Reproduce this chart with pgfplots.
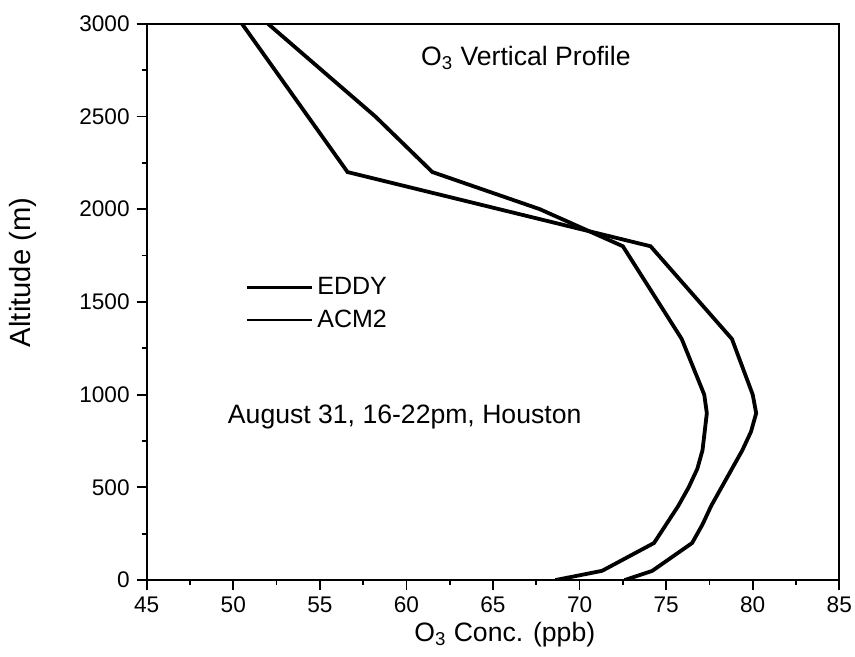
\documentclass[border=0pt]{standalone}
\usepackage{fontspec}
\setmainfont{Liberation Sans}
\usepackage{pgfplots}
\pgfplotsset{compat=1.18}

\begin{document}
\begin{tikzpicture}
\begin{axis}[
  name=ax,
  scale only axis,
  width=346.3pt, height=278.2pt,
  xmin=45, xmax=85, ymin=0, ymax=3000,
  xtick distance=5, ytick distance=500,
  minor x tick num=1, minor y tick num=1,
  tick align=outside, tick pos=left,
  major tick length=5pt, minor tick length=2.5pt,
  axis line style={line width=1pt},
  every tick/.style={black, line width=0.9pt},
  /pgf/number format/assume math mode=true,
  /pgf/number format/1000 sep={},
  scaled ticks=false,
  tick label style={font=\fontsize{11.3}{13}\selectfont},
  xlabel={O\textsubscript{3} Conc. (ppb)},
  ylabel={Altitude (m)},
  xlabel style={font=\fontsize{13.3}{16}\selectfont, at={(0.517,0)}, anchor=base, yshift=-30.5pt},
  ylabel style={font=\fontsize{14.6}{17}\selectfont, at={(-0.1786,0.553)}, anchor=center},
  legend style={at={(0.142,0.552)}, anchor=north west, draw=none, fill=none,
    inner sep=0pt, font=\fontsize{12.5}{15}\selectfont, row sep=2pt,
    cells={anchor=west}},
  legend image code/.code={\draw[#1] (0pt,0pt) -- (32.5pt,0pt);},
]
% EDDY
\addplot[forget plot, black, line width=1.9pt] coordinates {
  (50.5,3000) (56.6,2200) (74.1,1800) (78.8,1300) (80.0,1000) (80.2,900)
  (79.9,800) (79.4,700) (78.8,600) (78.2,500) (77.6,400) (77.1,300)
  (76.5,200) (74.2,50) (72.6,0)};
% ACM2
\addplot[forget plot, black, line width=1.9pt] coordinates {
  (52.0,3000) (58.2,2500) (61.5,2200) (67.7,2000) (72.5,1800) (75.9,1300)
  (77.2,1000) (77.35,900) (77.1,700) (76.8,600) (76.3,500) (75.7,400)
  (75.0,300) (74.3,200) (71.3,50) (68.6,0)};
\addlegendimage{black, line width=1.5pt}
\addlegendentry{EDDY}
\addlegendimage{black, line width=0.85pt}
\addlegendentry{ACM2}
\node[anchor=base, font=\fontsize{13.3}{16}\selectfont] at (axis cs:66.9,2777) {O\textsubscript{3} Vertical Profile};
\node[anchor=base, font=\fontsize{13.3}{16}\selectfont] at (axis cs:59.9,845) {August 31, 16-22pm, Houston};
\end{axis}
\pgfresetboundingbox
\path[use as bounding box] ([xshift=-73.35pt, yshift=-38pt]ax.south west) rectangle ([xshift=7.85pt, yshift=11.85pt]ax.north east);
\end{tikzpicture}
\end{document}
